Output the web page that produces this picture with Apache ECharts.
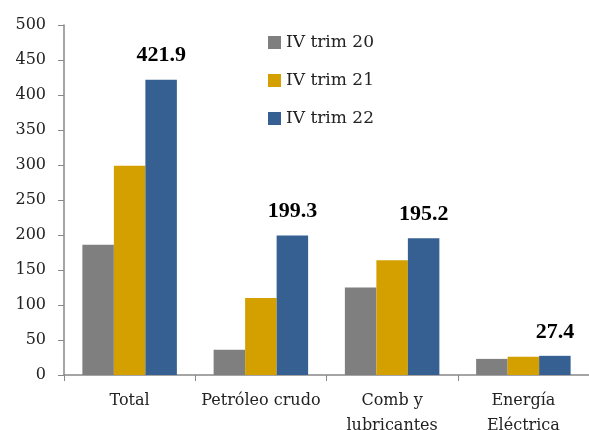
<!DOCTYPE html>
<html><head><meta charset="utf-8">
<script src="https://cdn.jsdelivr.net/npm/echarts@6/dist/echarts.min.js"></script>
<style>html,body{margin:0;padding:0;background:#fff}#c{width:589px;height:430px}</style>
</head><body><div id="c"></div>
<script>
const categories = ['Total', 'Petróleo crudo', 'Comb y\nlubricantes', 'Energía\nEléctrica'];
const seriesNames = ['IV trim 20', 'IV trim 21', 'IV trim 22'];
const trim20 = [186, 36, 125, 23];
const trim21 = [299, 110, 164, 26];
const trim22 = [421.9, 199.3, 195.2, 27.4];
const colors = ['#7f7f7f', '#d4a000', '#376092'];
const font = '"DejaVu Serif", serif';
const boldFont = '"Liberation Serif", serif';

const chart = echarts.init(document.getElementById('c'));
const mk = (name, data, color, label) => ({
  name, type: 'bar', data, barGap: '0%', barCategoryGap: '28%',
  itemStyle: { color },
  label: label ? { show: true, position: 'top', distance: 13, fontFamily: boldFont, fontWeight: 'bold', fontSize: 22, color: '#000', formatter: p => p.value.toFixed(1) } : { show: false }
});
chart.setOption({
  animation: false,
  textStyle: { fontFamily: font },
  grid: { left: 64, right: 0, top: 25, bottom: 55, containLabel: false, outerBoundsMode: 'none' },
  legend: {
    orient: 'vertical', left: 268, top: 34, padding: 0, itemGap: 21, itemWidth: 13, itemHeight: 13, icon: 'rect',
    textStyle: { fontFamily: font, fontSize: 17, color: '#222' },
    data: seriesNames
  },
  xAxis: {
    type: 'category', data: categories,
    axisLine: { lineStyle: { color: '#888', width: 1.5 } },
    axisTick: { show: true, length: 6, lineStyle: { color: '#888' } },
    axisLabel: { fontFamily: font, fontSize: 16, color: '#222', margin: 13, lineHeight: 25, interval: 0 }
  },
  yAxis: {
    type: 'value', min: 0, max: 500, interval: 50,
    splitLine: { show: false },
    axisLine: { show: true, lineStyle: { color: '#888', width: 1.5 } },
    axisTick: { show: true, length: 6, lineStyle: { color: '#888' } },
    axisLabel: { fontFamily: font, fontSize: 16, color: '#222', margin: 18 }
  },
  series: [
    mk(seriesNames[0], trim20, colors[0], false),
    mk(seriesNames[1], trim21, colors[1], false),
    mk(seriesNames[2], trim22, colors[2], true)
  ]
});
</script></body></html>
